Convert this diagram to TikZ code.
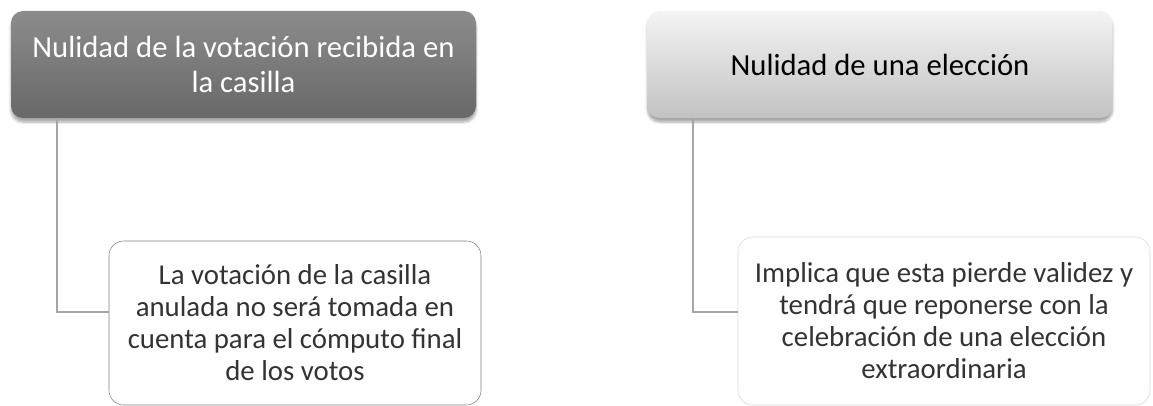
\documentclass[tikz,border=0pt]{standalone}
\usepackage{fontspec}
\setmainfont{Carlito}
\usetikzlibrary{positioning,calc,shadows.blur}
\definecolor{darktop}{HTML}{8C8C8C}
\definecolor{darkbot}{HTML}{686868}
\definecolor{lighttop}{HTML}{F4F4F4}
\definecolor{lightbot}{HTML}{C2C2C2}
\definecolor{linkgray}{HTML}{A6A6A6}

\begin{document}
\begin{tikzpicture}[
  x=0.75pt, y=-0.75pt,
  head/.style={rounded corners=9pt, minimum width=348.75pt, minimum height=80.25pt,
    inner sep=0pt, align=center, font=\fontsize{23pt}{26.25pt}\selectfont,
    blur shadow={shadow xshift=0pt, shadow yshift=-3pt, shadow blur steps=6, shadow opacity=35}},
  darkhead/.style={head, top color=darktop, bottom color=darkbot, text=white},
  lighthead/.style={head, top color=lighttop, bottom color=lightbot, text=black},
  leaf/.style={draw, fill=white, rounded corners=11pt, inner sep=0pt, align=center,
    font=\fontsize{21.6pt}{24pt}\selectfont, text=black!80},
  link/.style={draw=linkgray, line width=1.4pt}
]
\useasboundingbox (0,0) rectangle (1153,406);

% heads
\node[darkhead] (nulcas) at (243.5,64.5) {Nulidad de la votación recibida en\\la casilla};
\node[lighthead] (nulelec) at (880,64.5) {Nulidad de una elección};

% leaves
\node[leaf, draw=black!50, minimum width=279pt, minimum height=123pt] (efcas) at (295,323)
  {La votación de la casilla\\anulada no será tomada en\\cuenta para el cómputo final\\de los votos};
\node[leaf, draw=black!15, minimum width=309pt, minimum height=126pt] (efelec) at (944,321)
  {Implica que esta pierde validez y\\tendrá que reponerse con la\\celebración de una elección\\extraordinaria};

% links
\coordinate (bendcas) at (57,312);
\coordinate (bendelec) at (693,312);
\draw[link] (nulcas.south -| bendcas) -- (bendcas) -- (bendcas -| efcas.west);
\draw[link] (nulelec.south -| bendelec) -- (bendelec) -- (bendelec -| efelec.west);
\end{tikzpicture}
\end{document}
